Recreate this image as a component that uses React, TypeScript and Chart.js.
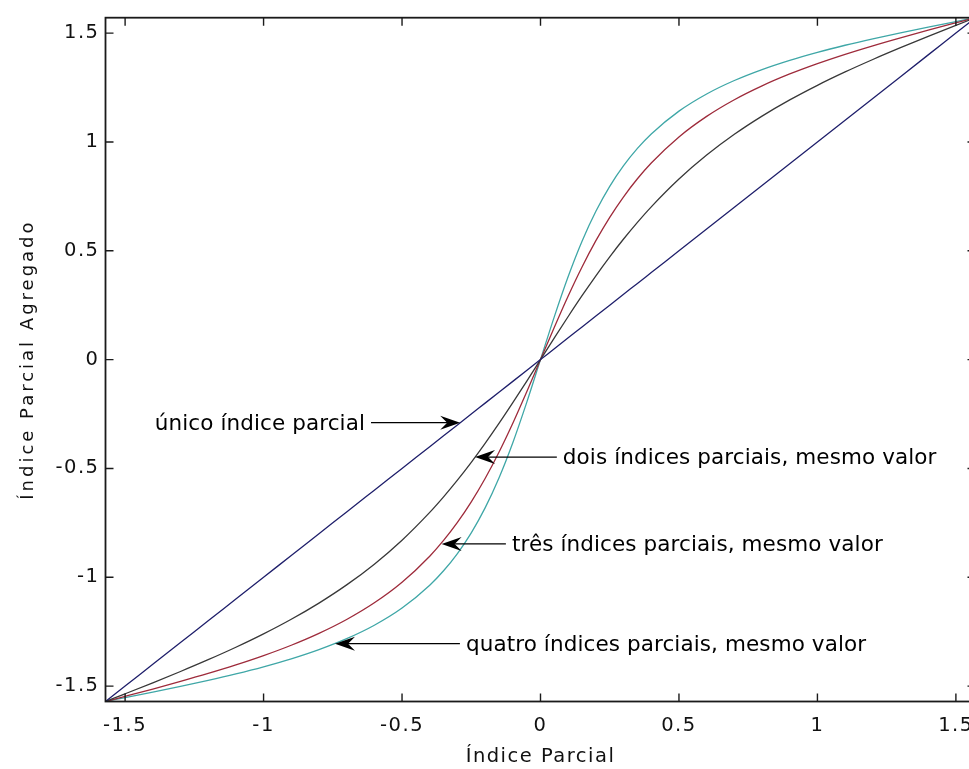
import { useEffect, useRef } from 'react';
import { Chart, registerables } from 'chart.js';

Chart.register(...registerables);

// ---- data ----
const xValues = [
  -1.5708, -1.5, -1.4, -1.3, -1.2, -1.1, -1.0, -0.9, -0.8, -0.7, -0.6, -0.5, -0.4, -0.35, -0.3, -0.25, -0.2, -0.15, -0.1, -0.05,
  0,
  0.05, 0.1, 0.15, 0.2, 0.25, 0.3, 0.35, 0.4, 0.5, 0.6, 0.7, 0.8, 0.9, 1.0, 1.1, 1.2, 1.3, 1.4, 1.5, 1.5708,
];
const oneIndex = [
  -1.5708, -1.5, -1.4, -1.3, -1.2, -1.1, -1.0, -0.9, -0.8, -0.7, -0.6, -0.5, -0.4, -0.35, -0.3, -0.25, -0.2, -0.15, -0.1, -0.05,
  0,
  0.05, 0.1, 0.15, 0.2, 0.25, 0.3, 0.35, 0.4, 0.5, 0.6, 0.7, 0.8, 0.9, 1.0, 1.1, 1.2, 1.3, 1.4, 1.5, 1.5708,
];
const twoIndices = [
  -1.5708, -1.5354, -1.4848, -1.4329, -1.3788, -1.3216, -1.2602, -1.1931, -1.1187, -1.0351, -0.9397, -0.8296, -0.7019, -0.6306, -0.554, -0.4722, -0.3852, -0.2935, -0.198, -0.0998,
  0,
  0.0998, 0.198, 0.2935, 0.3852, 0.4722, 0.554, 0.6306, 0.7019, 0.8296, 0.9397, 1.0351, 1.1187, 1.1931, 1.2602, 1.3216, 1.3788, 1.4329, 1.4848, 1.5354, 1.5708,
];
const threeIndices = [
  -1.5708, -1.5472, -1.5134, -1.4785, -1.4419, -1.4027, -1.3599, -1.3123, -1.2577, -1.194, -1.1174, -1.023, -0.9032, -0.8308, -0.7481, -0.6537, -0.5464, -0.4257, -0.2924, -0.149,
  0,
  0.149, 0.2924, 0.4257, 0.5464, 0.6537, 0.7481, 0.8308, 0.9032, 1.023, 1.1174, 1.194, 1.2577, 1.3123, 1.3599, 1.4027, 1.4419, 1.4785, 1.5134, 1.5472, 1.5708,
];
const fourIndices = [
  -1.5708, -1.5531, -1.5277, -1.5015, -1.4739, -1.4442, -1.4116, -1.375, -1.3326, -1.2823, -1.2205, -1.1416, -1.0368, -0.9703, -0.8911, -0.796, -0.6813, -0.5438, -0.3817, -0.1976,
  0,
  0.1976, 0.3817, 0.5438, 0.6813, 0.796, 0.8911, 0.9703, 1.0368, 1.1416, 1.2205, 1.2823, 1.3326, 1.375, 1.4116, 1.4442, 1.4739, 1.5015, 1.5277, 1.5531, 1.5708,
];
const tickValues = [-1.5, -1, -0.5, 0, 0.5, 1, 1.5];
const tickLabels = ['-1.5', '-1', '-0.5', '0', '0.5', '1', '1.5'];
const axisMin = -1.5708;
const axisMax = 1.5708;
const xTitle = 'Índice Parcial';
const yTitle = 'Índice Parcial Agregado';

// annotations (data coordinates)
const annotationTexts = [
  'único índice parcial',
  'dois índices parciais, mesmo valor',
  'três índices parciais, mesmo valor',
  'quatro índices parciais, mesmo valor',
];
const arrowTipX = [-0.29, -0.2365, -0.357, -0.742];
const arrowTipY = [-0.29, -0.448, -0.847, -1.305];
const arrowTailX = [-0.612, 0.059, -0.125, -0.291];

// ---- styles ----
const seriesList = [oneIndex, twoIndices, threeIndices, fourIndices];
const seriesColors = ['#1f1f6b', '#383838', '#9e2b3b', '#3fa7a7'];
const FONT = "'DejaVu Sans', 'Liberation Sans', sans-serif";
const CANVAS_W = 990;
const CANVAS_H = 769;
const TICK = 8;

const framePlugin = {
  id: 'matlabFrame',
  beforeUpdate(chart: any) {
    chart.ctx.letterSpacing = '1.5px';
  },
  beforeDraw(chart: any) {
    chart.ctx.letterSpacing = '1.5px';
  },
  afterDatasetsDraw(chart: any) {
    const { ctx, chartArea: a, scales } = chart;
    const xs = scales.x;
    const ys = scales.y;
    ctx.save();
    // box
    ctx.strokeStyle = '#1a1a1a';
    ctx.lineWidth = 1.8;
    ctx.strokeRect(a.left, a.top, a.right - a.left, a.bottom - a.top);
    // inward ticks on all sides
    ctx.lineWidth = 1.4;
    ctx.beginPath();
    xs.ticks.forEach((t: any) => {
      const p = xs.getPixelForValue(t.value);
      ctx.moveTo(p, a.bottom);
      ctx.lineTo(p, a.bottom - TICK);
      ctx.moveTo(p, a.top);
      ctx.lineTo(p, a.top + TICK);
    });
    ys.ticks.forEach((t: any) => {
      const p = ys.getPixelForValue(t.value);
      ctx.moveTo(a.left, p);
      ctx.lineTo(a.left + TICK, p);
      ctx.moveTo(a.right, p);
      ctx.lineTo(a.right - TICK, p);
    });
    ctx.stroke();

    // annotations
    ctx.fillStyle = '#000';
    ctx.strokeStyle = '#000';
    ctx.lineWidth = 1.3;
    ctx.font = `21.5px ${FONT}`;
    ctx.letterSpacing = '0.1px';
    ctx.textBaseline = 'alphabetic';
    annotationTexts.forEach((text, i) => {
      const tipX = xs.getPixelForValue(arrowTipX[i]);
      const tipY = ys.getPixelForValue(arrowTipY[i]);
      const tailX = xs.getPixelForValue(arrowTailX[i]);
      const dir = tailX > tipX ? 1 : -1;
      const HL = 20;
      const HW = 7;
      const NOTCH = 13;
      ctx.beginPath();
      ctx.moveTo(tailX, tipY);
      ctx.lineTo(tipX + dir * NOTCH, tipY);
      ctx.stroke();
      ctx.beginPath();
      ctx.moveTo(tipX, tipY);
      ctx.lineTo(tipX + dir * HL, tipY - HW);
      ctx.lineTo(tipX + dir * NOTCH, tipY);
      ctx.lineTo(tipX + dir * HL, tipY + HW);
      ctx.closePath();
      ctx.fill();
      ctx.textAlign = dir > 0 ? 'left' : 'right';
      ctx.fillText(text, tailX + dir * 6, tipY + 7);
    });

    // y axis title
    ctx.translate(28, (a.top + a.bottom) / 2);
    ctx.rotate(-Math.PI / 2);
    ctx.font = `18px ${FONT}`;
    ctx.letterSpacing = '3px';
    ctx.textAlign = 'center';
    ctx.textBaseline = 'middle';
    ctx.fillStyle = '#111';
    ctx.fillText(yTitle, 0, 0);
    ctx.restore();
  },
};

export default function App() {
  const ref = useRef<HTMLCanvasElement>(null);
  useEffect(() => {
    const canvas = ref.current;
    if (!canvas) return;
    const setTicks = (scale: any) => {
      scale.ticks = tickValues.map((v) => ({ value: v }));
    };
    const chart = new Chart(canvas, {
      type: 'line',
      data: {
        datasets: seriesList.map((s, i) => ({
          data: xValues.map((x, j) => ({ x, y: s[j] })),
          borderColor: seriesColors[i],
          backgroundColor: seriesColors[i],
          borderWidth: 1.3,
          pointRadius: 0,
          fill: false,
          cubicInterpolationMode: 'monotone' as const,
        })),
      },
      options: {
        animation: false,
        responsive: false,
        devicePixelRatio: 1,
        events: [],
        layout: { padding: { left: 0, top: 15, right: 14.5, bottom: 0 } },
        plugins: {
          legend: { display: false },
          tooltip: { enabled: false },
          title: { display: false },
        },
        scales: {
          x: {
            type: 'linear',
            min: axisMin,
            max: axisMax,
            afterBuildTicks: setTicks,
            afterFit: (s: any) => {
              s.height = 67.5;
            },
            grid: { display: false, drawTicks: false },
            border: { display: false },
            ticks: {
              autoSkip: false,
              maxRotation: 0,
              padding: 13,
              color: '#111',
              font: { family: FONT, size: 19.5 },
              callback: (_v: any, i: number) => tickLabels[i],
            },
            title: {
              display: true,
              text: xTitle,
              color: '#111',
              font: { family: FONT, size: 19.5 },
              padding: { top: 0, bottom: 0 },
            },
          },
          y: {
            type: 'linear',
            min: axisMin,
            max: axisMax,
            afterBuildTicks: setTicks,
            afterFit: (s: any) => {
              s.width = 105.5;
            },
            grid: { display: false, drawTicks: false },
            border: { display: false },
            ticks: {
              autoSkip: false,
              padding: 6,
              color: '#111',
              font: { family: FONT, size: 19.5 },
              callback: (_v: any, i: number) => tickLabels[i],
            },
            title: { display: false },
          },
        },
      },
      plugins: [framePlugin],
    } as any);
    return () => chart.destroy();
  }, []);
  return (
    <canvas
      ref={ref}
      width={CANVAS_W}
      height={CANVAS_H}
      style={{ position: 'fixed', left: 0, top: 0, width: CANVAS_W, height: CANVAS_H, background: '#fff' }}
    />
  );
}
